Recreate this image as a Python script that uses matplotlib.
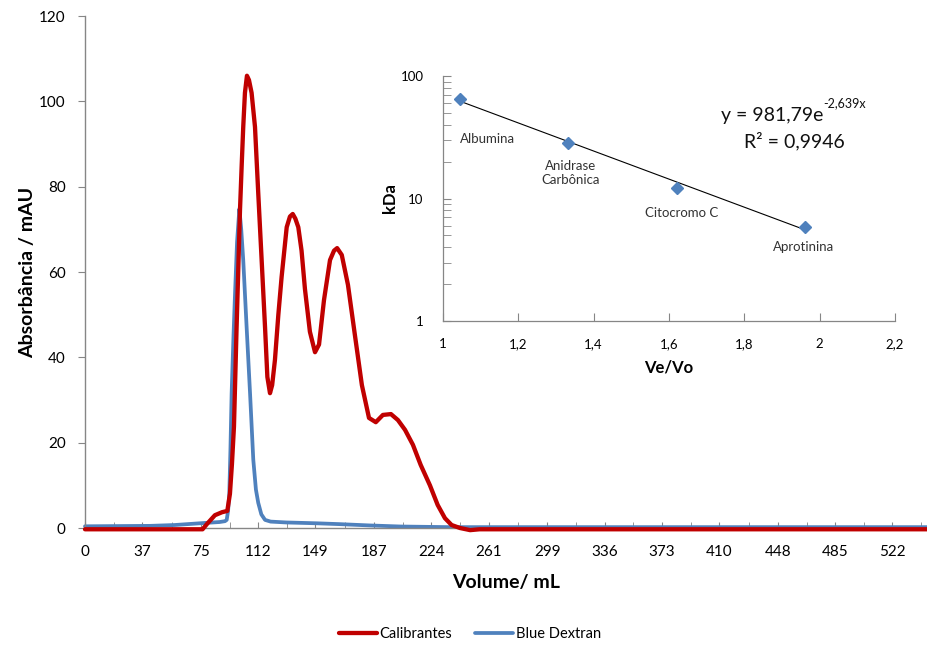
import matplotlib
matplotlib.use("Agg")
import matplotlib.pyplot as plt
import numpy as np

plt.rcParams['font.family'] = ['Lato', 'DejaVu Sans']

# ---- main chromatogram data (Volume mL, Absorbance mAU) ----
cal_vol = [0, 76, 79, 84, 88.6, 92.0, 93.7, 95.0, 96.3, 98.0, 99.2, 100.2, 101.3, 102.3, 103.4,
           104.7, 106.0, 107.7, 109.9, 112.0, 114.2, 116.4, 117.9, 119.6, 121.0, 122.8,
           125.0, 127.1, 130.4, 132.5, 134.3, 136.0, 137.9, 140.0, 142.2, 145.4, 148.7,
           151.3, 154.5, 158.4, 161.0, 163.0, 166.0, 170.0, 174.5, 179.0, 183.6, 188.0,
           192.6, 197.8, 202.3, 206.9, 212.0, 217.0, 223.0, 228.0, 232.7, 237.0, 242.4,
           249.0, 255.0, 545]
cal_abs = [-0.3, -0.3, 1.0, 3.0, 3.7, 4.0, 8.0, 15.0, 23.7, 47.0, 62.0, 74.5, 85.0, 94.0, 102.0,
           106.0, 105.0, 102.0, 94.0, 78.5, 62.8, 47.0, 35.4, 31.6, 33.5, 39.4,
           50.0, 58.8, 70.5, 73.0, 73.6, 72.5, 70.5, 65.0, 56.0, 46.0, 41.2,
           43.0, 53.4, 62.8, 65.0, 65.6, 64.0, 57.0, 45.2, 33.5, 25.8, 24.8,
           26.5, 26.7, 25.3, 23.0, 19.5, 14.8, 10.0, 5.4, 2.3, 0.7, 0.0,
           -0.5, -0.3, -0.3]

bd_vol = [0, 42, 58, 74, 87, 90.5, 91.6, 92.5, 93.3, 94.0, 94.8, 96.0, 97.0, 98.3, 99.8,
          101.0, 102.3, 104.5, 106.7, 108.8, 110.5, 112.0, 114.0, 116.4, 120.0, 130.0,
          150.0, 165.0, 184.0, 204.0, 236.0, 545]
bd_abs = [0.4, 0.5, 0.7, 1.1, 1.4, 1.6, 1.9, 4.0, 8.2, 18.0, 31.6, 45.0, 55.0, 67.0, 74.8,
          70.0, 62.8, 47.0, 31.6, 16.0, 9.0, 5.9, 3.2, 1.9, 1.5, 1.3,
          1.1, 0.9, 0.6, 0.35, 0.2, 0.2]

x_tick_labels = ['0', '37', '75', '112', '149', '187', '224', '261', '299', '336',
                 '373', '410', '448', '485', '522']

# ---- inset calibration data ----
ve_vo = [1.044, 1.331, 1.621, 1.961]
kda = [64.9, 28.6, 12.2, 5.9]
proteins = ['Albumina', 'Anidrase\nCarbônica', 'Citocromo C', 'Aprotinina']
fit_a, fit_b = 981.79, -2.639

RED = '#C00000'
BLUE = '#4F81BD'
GRAY = '#868686'

W, H = 928, 646
fig = plt.figure(figsize=(W / 100, H / 100), dpi=100)

def fx(px):
    return px / W

def fy(py):
    return 1 - py / H

ax = fig.add_axes([fx(85), fy(528), fx(928) - fx(85), fy(16) - fy(528)])
ax.plot(cal_vol, cal_abs, color=RED, lw=3.1, solid_capstyle='round', solid_joinstyle='round',
        clip_on=False, zorder=3, label='Calibrantes')
ax.plot(bd_vol, bd_abs, color=BLUE, lw=2.7, solid_capstyle='round', solid_joinstyle='round',
        clip_on=False, zorder=2, label='Blue Dextran')
ax.set_xlim(0, 545)
ax.set_ylim(0, 120)
for s in ['top', 'right']:
    ax.spines[s].set_visible(False)
for s in ['left', 'bottom']:
    ax.spines[s].set_color(GRAY)
    ax.spines[s].set_linewidth(1.0)
ax.set_yticks(range(0, 121, 20))
ax.tick_params(axis='y', direction='out', length=5, color=GRAY, labelsize=11, pad=9)
xt = [float(v) for v in x_tick_labels]
ax.set_xticks(xt)
ax.set_xticklabels(x_tick_labels)
ax.set_xticks([(xt[i] + xt[i + 1]) / 2 for i in range(len(xt) - 1)] + [xt[-1] + 18.65], minor=True)
ax.tick_params(axis='x', which='both', direction='in', length=4, color=GRAY, labelsize=11, pad=12)
ax.set_xlabel('Volume/ mL', fontsize=14, fontweight='bold', labelpad=11)
ax.set_ylabel('Absorbância / mAU', fontsize=14, fontweight='bold', labelpad=2)

fig.legend(loc='center', bbox_to_anchor=(fx(470), fy(634)), ncol=2, frameon=False,
           fontsize=10.5, handlelength=2.6, handletextpad=0.15, columnspacing=1.6)

# ---- inset ----
ax2 = fig.add_axes([fx(443), fy(321), fx(895) - fx(443), fy(76) - fy(321)])
ax2.set_facecolor('none')
ax2.set_yscale('log')
ax2.set_ylim(1, 100)
ax2.set_xlim(1, 2.2)
xs = np.linspace(min(ve_vo), max(ve_vo), 50)
ax2.plot(xs, fit_a * np.exp(fit_b * xs), color='black', lw=0.8, zorder=2)
ax2.plot(ve_vo, kda, 'D', color=BLUE, markersize=6, zorder=3)
for s in ['top', 'right']:
    ax2.spines[s].set_visible(False)
for s in ['left', 'bottom']:
    ax2.spines[s].set_color(GRAY)
    ax2.spines[s].set_linewidth(0.9)
ax2.set_yticks([1, 10, 100])
ax2.set_yticklabels(['1', '10', '100'])
ax2.set_yticks([m * d for d in (1, 10) for m in range(2, 10)], minor=True)
ax2.yaxis.set_minor_formatter(matplotlib.ticker.NullFormatter())
ax2.set_xticks([1, 1.2, 1.4, 1.6, 1.8, 2, 2.2])
ax2.set_xticklabels(['1', '1,2', '1,4', '1,6', '1,8', '2', '2,2'])
ax2.tick_params(axis='both', which='major', direction='in', length=6, color=GRAY, labelsize=9.5)
ax2.tick_params(axis='y', which='minor', direction='in', length=6, color=GRAY)
ax2.tick_params(axis='y', pad=14)
ax2.tick_params(axis='x', pad=12)
ax2.set_xlabel('Ve/Vo', fontsize=12, fontweight='bold', labelpad=7)
ax2.set_ylabel('kDa', fontsize=12, fontweight='bold', labelpad=2)

label_pos = [(1.117, 30.4), (1.34, 16.0), (1.633, 7.65), (1.958, 4.05)]
for (lx, ly), name in zip(label_pos, proteins):
    ax2.text(lx, ly, name, ha='center', va='center', fontsize=9.5, color='#333333',
             linespacing=1.2)

t1 = fig.text(fx(721), fy(115), 'y = 981,79e', fontsize=14, ha='left', va='center', color='#111111')
ax2.annotate('-2,639x', xy=(1, 0.85), xycoords=t1, fontsize=9, ha='left', va='bottom',
             color='#111111')
fig.text(fx(794), fy(141), 'R² = 0,9946', fontsize=14, ha='center', va='center', color='#111111')

fig.savefig('out.png', dpi=100)
